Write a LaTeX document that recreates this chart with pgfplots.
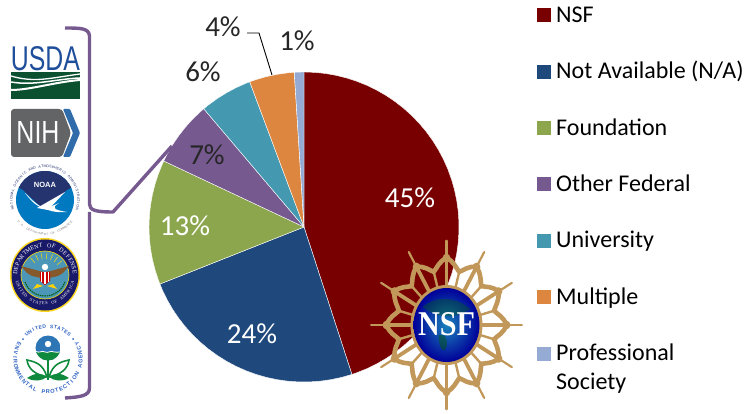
\documentclass[border=0pt]{standalone}
\usepackage{fontspec}
\usepackage{graphicx}
\usepackage{pgfplots}
\pgfplotsset{compat=1.18}
\setmainfont{Carlito}
\setsansfont{Liberation Sans}
\newfontfamily\serifb{Liberation Serif}
\definecolor{cNSF}{HTML}{780000}
\definecolor{cNA}{HTML}{1F497D}
\definecolor{cFo}{HTML}{8CA64E}
\definecolor{cOF}{HTML}{76598F}
\definecolor{cUn}{HTML}{4499B1}
\definecolor{cMu}{HTML}{DC8640}
\definecolor{cPS}{HTML}{95ABD3}
\definecolor{gold}{HTML}{C2985A}
\definecolor{lblue}{HTML}{1F4E9A}
\definecolor{lgreen}{HTML}{0B5130}
\definecolor{lgray}{HTML}{636466}
\definecolor{lchev}{HTML}{2F6CA9}
\definecolor{nblue}{HTML}{0079C1}
\definecolor{nnavy}{HTML}{25346F}
\definecolor{epab}{HTML}{2E62C4}
\definecolor{epag}{HTML}{0F8A3C}
\newcommand{\fs}[1]{\fontsize{#1}{#1}\selectfont}
% #1 radius, #2 start angle, #3 step, #4 rotation offset (-90 top, 90 bottom), #5 font and colour, #6 letters
\newcommand{\ringtext}[6]{%
  \foreach \c [count=\i from 0] in {#6}{%
    \pgfmathsetmacro{\t}{#2+\i*(#3)}%
    \pgfmathsetmacro{\r}{\t+(#4)}%
    \node[rotate=\r,inner sep=0pt,#5] at (\t:#1) {\strut\c};}}
\begin{document}
\begin{tikzpicture}
\path[use as bounding box] (0,0) rectangle (745pt,413pt);
\begin{axis}[
  at={(0,0)}, anchor=south west, scale only axis, width=745pt, height=413pt,
  xmin=-304, xmax=441, ymin=-186, ymax=227, axis lines=none, clip=false,
  legend cell align=left,
  legend image code/.code={\path[#1,draw=none] (0pt,-6pt) rectangle (14pt,8pt); \path[draw=none,fill=none] (0pt,0pt) -- (19pt,0pt);},
  legend style={at={(axis cs:233,223)}, anchor=north west, draw=none, fill=none,
    row sep=32.4pt, inner sep=0pt, font=\fs{24},
    nodes={inner sep=0pt, text height=18pt, text depth=6pt}},
]
\addplot[fill=cNSF, draw=white, line width=0.4pt, data cs=polar] coordinates {(0,0) (90,155) (86,155) (82,155) (78,155) (74,155) (70,155) (66,155) (62,155) (58,155) (54,155) (50,155) (46,155) (42,155) (38,155) (34,155) (30,155) (26,155) (22,155) (18,155) (14,155) (10,155) (6,155) (2,155) (-2,155) (-6,155) (-10,155) (-14,155) (-18,155) (-22,155) (-26,155) (-30,155) (-34,155) (-38,155) (-42,155) (-46,155) (-50,155) (-54,155) (-58,155) (-62,155) (-66,155) (-70,155) (-72,155) (0,0)};
\addlegendentry{NSF}
\addplot[fill=cNA, draw=white, line width=0.4pt, data cs=polar] coordinates {(0,0) (-72,155) (-76,155) (-80,155) (-84,155) (-88,155) (-92,155) (-96,155) (-100,155) (-104,155) (-108,155) (-112,155) (-116,155) (-120,155) (-124,155) (-128,155) (-132,155) (-136,155) (-140,155) (-144,155) (-148,155) (-152,155) (-156,155) (-158.4,155) (0,0)};
\addlegendentry{Not Available (N/A)}
\addplot[fill=cFo, draw=white, line width=0.4pt, data cs=polar] coordinates {(0,0) (-158.4,155) (-160,155) (-164,155) (-168,155) (-172,155) (-176,155) (-180,155) (-184,155) (-188,155) (-192,155) (-196,155) (-200,155) (-204,155) (-205.2,155) (0,0)};
\addlegendentry{Foundation}
\addplot[fill=cOF, draw=white, line width=0.4pt, data cs=polar] coordinates {(0,0) (-205.2,155) (-208,155) (-212,155) (-216,155) (-220,155) (-224,155) (-228,155) (-229.7,155) (0,0)};
\addlegendentry{Other Federal}
\addplot[fill=cUn, draw=white, line width=0.4pt, data cs=polar] coordinates {(0,0) (-229.7,155) (-232,155) (-236,155) (-240,155) (-244,155) (-248,155) (-249.5,155) (0,0)};
\addlegendentry{University}
\addplot[fill=cMu, draw=white, line width=0.4pt, data cs=polar] coordinates {(0,0) (-249.5,155) (-252,155) (-256,155) (-260,155) (-264,155) (-266.4,155) (0,0)};
\addlegendentry{Multiple}
\addplot[fill=cPS, draw=white, line width=0.4pt, data cs=polar] coordinates {(0,0) (-266.4,155) (-268,155) (-270,155) (0,0)};
\addlegendentry{\parbox[t]{120pt}{Professional\\[5pt]Society}}
\end{axis}
% overlay in pixel coordinates
\begin{scope}[x=1pt,y=-1pt,yshift=413pt]
\node[white,font=\fs{29}] at (410,198) {45\%};
\node[white,font=\fs{29}] at (252,334) {24\%};
\node[white,font=\fs{29}] at (185,226) {13\%};
\node[black!85,font=\fs{29}] at (207,155) {7\%};
\node[black!85,font=\fs{29}] at (203,72) {6\%};
\node[black!85,font=\fs{29}] at (223,27) {4\%};
\node[black!85,font=\fs{29}] at (297,41) {1\%};
\draw[black,line width=0.9pt] (247,33) -- (259,33) -- (272,75);
% bracket
\draw[cOF,line width=3.4pt,line join=round] (65,28) .. controls (80,28) and (89,28) .. (89.5,36) -- (89.5,204) .. controls (89.5,210) and (95,212) .. (113,212) -- (172,146);
\draw[cOF,line width=3.4pt] (89.5,212) -- (89.5,388) .. controls (89.5,396) and (80,397) .. (65,398);
% USDA
\node[inner sep=0pt,text=lblue] at (45.5,58.5) {\resizebox{69pt}{24pt}{\sffamily USDA}};
\fill[lgreen] (11,72) rectangle (80,99);
\draw[white,line width=1.3pt] (11,76) .. controls (35,83) and (50,78) .. (80,74);
\draw[white,line width=1.5pt] (11,82) .. controls (35,86) and (55,79) .. (80,78);
\draw[white,line width=2pt] (11,90) .. controls (30,90) and (55,82) .. (80,80);
% NIH
\fill[lgray,rounded corners=3pt] (11,109) -- (62,109) -- (71,133) -- (62,157) -- (11,157) -- cycle;
\fill[lchev,rounded corners=1pt] (63,109) -- (70,109) -- (80,133) -- (70,157) -- (63,157) -- (73,133) -- cycle;
\node[white,inner sep=0pt] at (38,133) {\resizebox{43pt}{22pt}{\sffamily NIH}};
\end{scope}
% NOAA
\begin{scope}[x=1pt,y=1pt,shift={(45pt,213pt)}]
\begin{scope}
\clip (0,0) circle[radius=29];
\fill[nblue] (-30,-30) rectangle (30,30);
\fill[nnavy] (-30,30) -- (30,30) -- (30,14) -- (22,10) -- (3,-8) -- (-3,-8) -- (-22,10) -- (-30,14) -- cycle;
\fill[white] (-20,7) .. controls (-10,-3) and (0,-14) .. (22,-12) .. controls (10,-10) and (5,-8) .. (14,-3) .. controls (2,-8) and (-4,-14) .. (-20,7) -- cycle;
\fill[white] (20,8) -- (3,-10) -- (-8,-8) -- cycle;
\end{scope}
\node[white,font=\fs{7.5}\sffamily\bfseries] at (0,15) {NOAA};
\ringtext{33}{195}{-4.57}{-90}{font=\fs{3.6}\sffamily,text=nnavy}{N,A,T,I,O,N,A,L,~,O,C,E,A,N,I,C,~,A,N,D,~,A,T,M,O,S,P,H,E,R,I,C,~,A,D,M,I,N,I,S,T,R,A,T,I,O,N}
\ringtext{34.5}{220}{3.85}{90}{font=\fs{3}\sffamily,text=gray}{U,.,S,.,~,D,E,P,A,R,T,M,E,N,T,~,O,F,~,C,O,M,M,E,R,C,E}
\end{scope}
% DoD
\begin{scope}[x=1pt,y=1pt,shift={(45pt,138pt)}]
\fill[yellow!70!orange!90!white] (0,0) ellipse[x radius=35,y radius=37];
\fill[blue!35!black!90] (0,0) ellipse[x radius=33.5,y radius=35.5];
\fill[blue!30!cyan!60!black!70!white] (0,0) circle[radius=24];
\draw[yellow!80!orange,line width=0.6pt] (0,0) circle[radius=24];
\foreach \a in {40,55,...,140} \draw[yellow!80!orange,line width=0.5pt] (\a:16) -- (\a:22);
\fill[brown!70!black] (-2,3) -- (-24,9) -- (-18,2) -- (-13,-1) -- (-4,-3) -- cycle;
\fill[brown!70!black] (2,3) -- (24,9) -- (18,2) -- (13,-1) -- (4,-3) -- cycle;
\fill[white] (0,8) circle[radius=3.2];
\fill[red!80!black] (-5,3) -- (5,3) -- (5,-6) -- (0,-10) -- (-5,-6) -- cycle;
\fill[white] (-1,3) rectangle (1,-9);
\fill[white] (-3.6,3) rectangle (-2.6,-7);
\fill[white] (3.6,3) rectangle (2.6,-7);
\fill[yellow!70!orange] (-2,-11) -- (-12,-14) -- (-8,-9) -- cycle;
\fill[yellow!70!orange] (2,-11) -- (12,-14) -- (8,-9) -- cycle;
\draw[green!35!black,line width=1pt,dash pattern=on 1.5pt off 0.8pt] (-20,-7) arc (200:340:21.3);
\ringtext{29}{175}{-8.5}{-90}{font=\fs{6}\serifb,text=white}{D,E,P,A,R,T,M,E,N,T,~,O,F,~,D,E,F,E,N,S,E}
\ringtext{29}{195}{6.52}{90}{font=\fs{4.4}\serifb,text=white}{U,N,I,T,E,D,~,S,T,A,T,E,S,~,O,F,~,A,M,E,R,I,C,A}
\end{scope}
% EPA
\begin{scope}[x=1pt,y=1pt,shift={(48pt,56pt)}]
\begin{scope}[yshift=-2pt]
\ringtext{32}{130}{-6.67}{-90}{font=\fs{5}\sffamily\bfseries,text=epab}{U,N,I,T,E,D,~,S,T,A,T,E,S}
\ringtext{33.5}{153}{7.8}{90}{font=\fs{5.6}\sffamily\bfseries,text=epab}{E,N,V,I,R,O,N,M,E,N,T,A,L,~,P,R,O,T,E,C,T,I,O,N,~,A,G,E,N,C,Y}
\fill[epab] (-25,20) circle[radius=1];
\fill[epab] (25,20) circle[radius=1];
\end{scope}
\begin{scope}
\clip (0,9) circle[radius=12.5];
\fill[cyan!60!blue!85!black] (-13,-4) rectangle (13,22);
\fill[epag] (-13,-4) rectangle (13,5);
\end{scope}
\fill[white] (0,13) circle[radius=3.2];
\draw[white,line width=0.8pt] (-12,5.5) .. controls (-8,3.5) and (-6,7) .. (-3,5) .. controls (0,3.5) and (3,7) .. (6,5) .. controls (8,3.5) and (10,6) .. (12,5);
\draw[epag,line width=1.5pt] (0,-3) -- (0,-23);
\draw[epag,line width=1.6pt,fill=white] (-1,-20) .. controls (-5,-7) and (-12,-5) .. (-21,-3) .. controls (-20,-12) and (-12,-18) .. (-1,-20);
\draw[epag,line width=1.6pt,fill=white] (1,-20) .. controls (5,-7) and (12,-5) .. (21,-3) .. controls (20,-12) and (12,-18) .. (1,-20);
\fill[epag] (-21,-21) .. controls (-12,-15) and (-6,-16) .. (-1,-20) .. controls (-6,-24) and (-14,-25) .. (-21,-21);
\fill[epag] (21,-21) .. controls (12,-15) and (6,-16) .. (1,-20) .. controls (6,-24) and (14,-25) .. (21,-21);
\end{scope}
% NSF logo
\begin{scope}[x=1pt,y=1pt,shift={(446.5pt,88pt)}]
\begin{scope}[xscale=77,yscale=86]
\foreach \a in {0,30,...,330}{
  \draw[gold,line width=2.2pt,line cap=round] (\a:0.98) -- (\a:0.80);
  \fill[gold] (\a:0.78) circle[radius=0.05];
  \draw[gold,line width=3.8pt] (\a:0.78) -- (\a:0.42);
  \draw[gold,line width=4.6pt,line cap=round] (\a:0.78) .. controls (\a+8:0.74) and (\a+10:0.68) .. (\a+15:0.64);
  \draw[gold,line width=4.6pt,line cap=round] (\a:0.78) .. controls (\a-8:0.74) and (\a-10:0.68) .. (\a-15:0.64);
  \draw[gold,line width=2.4pt] (\a+15:0.64) -- (\a+15:0.42);
}
\end{scope}
\fill[gold] (0,0) ellipse[x radius=36,y radius=40];
\shade[inner color=blue!35!cyan!70!black!90!white, outer color=blue!60!black] (0,0) ellipse[x radius=33,y radius=37];
\fill[green!40!black,opacity=.35] (-24,18) .. controls (-10,30) and (10,28) .. (24,16) .. controls (12,8) and (-5,4) .. (-24,18);
\fill[green!35!black,opacity=.45] (-8,-10) .. controls (-2,-8) and (2,-14) .. (0,-22) .. controls (-3,-30) and (-8,-22) .. (-8,-10);
\node[white,inner sep=0pt] at (0,1) {\resizebox{57pt}{23pt}{\serifb\bfseries NSF}};
\end{scope}
\end{tikzpicture}
\end{document}
